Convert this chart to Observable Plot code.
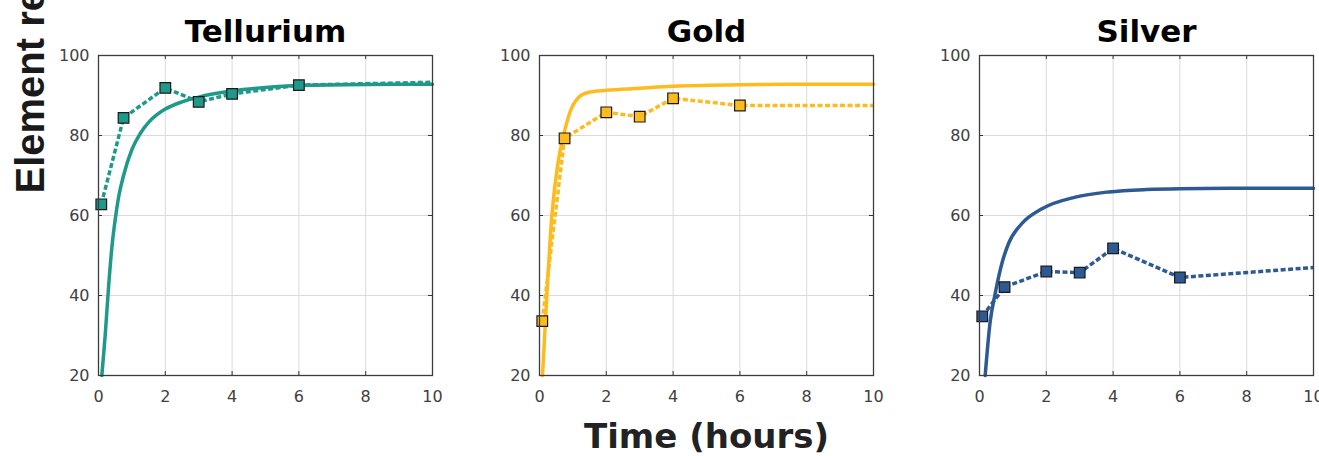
<!DOCTYPE html>
<html>
<head>
<meta charset="utf-8">
<script src="https://cdn.jsdelivr.net/npm/d3@7"></script>
<script src="https://cdn.jsdelivr.net/npm/@observablehq/plot@0.6"></script>
<style>
  html, body { margin: 0; padding: 0; background: #fff; }
  #wrap { position: relative; width: 1319px; height: 456px; overflow: hidden; background: #fff; }
  .panel { position: absolute; top: 0; width: 452px; height: 456px; }
  .panel svg { display: block; overflow: visible; max-width: none !important; width: 452px; height: 456px; }
</style>
</head>
<body>
<div id="wrap"></div>
<script>
// ---- data ----
const elements = ["Tellurium", "Gold", "Silver"];
const colors = ["#1f9989", "#fdbb1e", "#2e5a93"];
const xTicks = [0, 2, 4, 6, 8, 10];
const yTicks = [20, 40, 60, 80, 100];

// measured points (squares, dashed line)
const measuredTime = [0.083, 0.75, 2, 3, 4, 6];
const telluriumMeasured = [62.8, 84.4, 91.9, 88.4, 90.4, 92.6];
const goldMeasured = [33.6, 79.3, 85.8, 84.7, 89.3, 87.5];
const silverMeasured = [34.8, 42.1, 46.0, 45.7, 51.8, 44.5];
// dashed line continuation to the right edge
const extensionTime = 10;
const telluriumExtension = 93.3;
const goldExtension = 87.5;
const silverExtension = 47.0;

// model curves (solid lines)
const telluriumModelTime = [0.1, 0.2, 0.3, 0.4, 0.5, 0.6, 0.75, 1.0, 1.25, 1.5, 1.75, 2, 2.5, 3, 4, 5, 6, 8, 10];
const telluriumModel =     [20, 30, 42, 52, 59, 64.5, 70, 76.5, 80.5, 83.3, 85.2, 86.6, 88.4, 89.6, 91.1, 92.0, 92.5, 92.75, 92.8];
const goldModelTime = [0.09, 0.22, 0.37, 0.57, 0.72, 0.92, 1.17, 1.47, 2, 3, 4, 6, 8, 10];
const goldModel =     [20, 40, 60, 74, 80, 86, 89.5, 90.8, 91.3, 91.8, 92.3, 92.7, 92.8, 92.8];
const silverModelTime = [0.17, 0.32, 0.47, 0.67, 0.87, 1.27, 1.87, 2.87, 3.87, 5, 6, 8, 10];
const silverModel =     [20, 33.5, 40.5, 48, 53, 58, 61.7, 64.6, 65.9, 66.5, 66.7, 66.8, 66.8];

const measured = [telluriumMeasured, goldMeasured, silverMeasured];
const extensions = [telluriumExtension, goldExtension, silverExtension];
const modelTimes = [telluriumModelTime, goldModelTime, silverModelTime];
const models = [telluriumModel, goldModel, silverModel];

const panelLefts = [-0.3, 441.3, 881.3];

function panel(i) {
  const color = colors[i];
  const pts = measuredTime.map((t, j) => ({t, v: measured[i][j]}));
  const dashed = pts.concat([{t: extensionTime, v: extensions[i]}]);
  const model = modelTimes[i].map((t, j) => ({t, v: models[i][j]}));
  const marks = [
    Plot.gridX(xTicks, {stroke: "#dadada", strokeOpacity: 1, strokeWidth: 1}),
    Plot.gridY(yTicks, {stroke: "#dadada", strokeOpacity: 1, strokeWidth: 1}),
    Plot.tickX(xTicks, {x: d => d, insetTop: 316, stroke: "#333", strokeWidth: 1}),
    Plot.tickX(xTicks, {x: d => d, insetBottom: 316, stroke: "#333", strokeWidth: 1}),
    Plot.tickY(yTicks, {y: d => d, insetRight: 330, stroke: "#333", strokeWidth: 1}),
    Plot.tickY(yTicks, {y: d => d, insetLeft: 330, stroke: "#333", strokeWidth: 1}),
    Plot.axisX(xTicks, {tickSize: 0, tickPadding: 15, label: null, fill: "#404040", fontSize: 16}),
    Plot.axisY(yTicks, {tickSize: 0, tickPadding: 9, label: null, fill: "#404040", fontSize: 16}),
    Plot.line(model, {x: "t", y: "v", stroke: color, strokeWidth: 3.5, curve: "monotone-x"}),
    Plot.line(dashed, {x: "t", y: "v", stroke: color, strokeWidth: 3.5, strokeDasharray: "5,2.5", strokeLinecap: "butt"}),
    Plot.dot(pts, {x: "t", y: "v", symbol: "square", r: 6, fill: color, stroke: "#1a1a1a", strokeWidth: 1.2}),
    Plot.frame({stroke: "#3c3c3c", strokeWidth: 1.3}),
    Plot.text([elements[i]], {frameAnchor: "top", dy: -14, lineAnchor: "bottom", fontSize: 31, fontWeight: "bold", fill: "#000", fontFamily: "DejaVu Sans"})
  ];
  if (i === 1) {
    marks.push(Plot.text(["Time (hours)"], {frameAnchor: "bottom", dy: 72, lineAnchor: "bottom", fontSize: 34, fontWeight: "bold", fill: "#222", fontFamily: "DejaVu Sans"}));
  }
  if (i === 0) {
    marks.push(Plot.text(["Element recovery (%)"], {frameAnchor: "left", dx: -54.5, dy: -22, rotate: -90, textAnchor: "start", lineAnchor: "bottom", fontSize: 40, fontWeight: "bold", fill: "#1a1a1a", fontFamily: "Liberation Sans"}));
  }
  return Plot.plot({
    width: 452,
    height: 456,
    marginLeft: 98,
    marginRight: 20,
    marginTop: 55,
    marginBottom: 81,
    x: {domain: [0, 10]},
    y: {domain: [20, 100]},
    style: {fontFamily: "DejaVu Sans", fontSize: "16px", background: "transparent", overflow: "visible", maxWidth: "none"},
    marks
  });
}

const wrap = document.getElementById("wrap");
elements.forEach((e, i) => {
  const div = document.createElement("div");
  div.className = "panel";
  div.style.left = panelLefts[i] + "px";
  div.appendChild(panel(i));
  wrap.appendChild(div);
});
</script>
</body>
</html>
